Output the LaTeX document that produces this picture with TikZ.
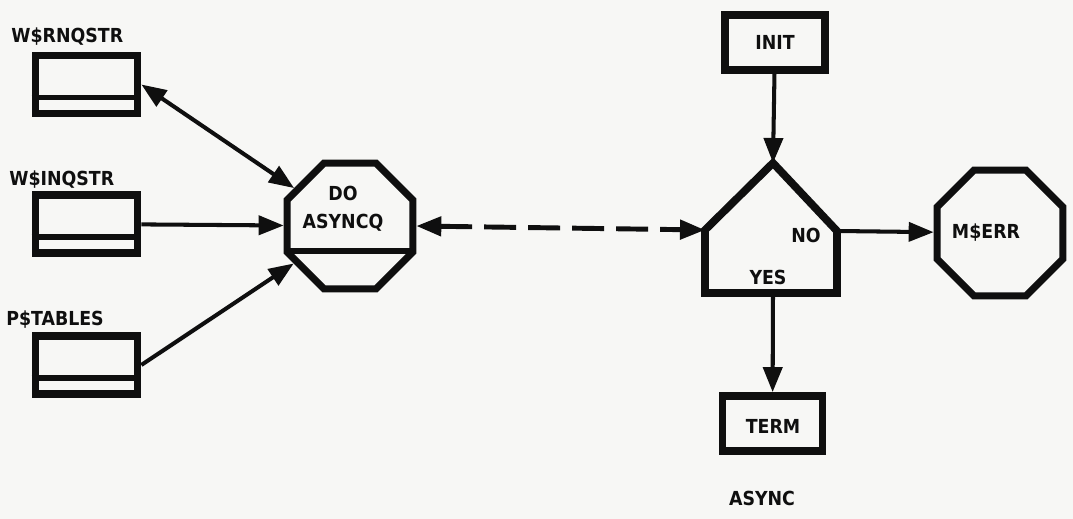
\documentclass[tikz,border=0pt]{standalone}
\usepackage{fontspec}
\setmainfont{DejaVu Sans Condensed}
\usetikzlibrary{arrows.meta,shapes.geometric}

\definecolor{paper}{RGB}{247,247,245}
\definecolor{ink}{RGB}{15,15,15}

\tikzset{
    lbl/.style={font=\fontsize{11}{16}\selectfont\bfseries, text=ink, inner sep=0pt, align=center},
    store/.style={draw=ink, line width=4.4pt, minimum width=2.04cm, minimum height=1.16cm, inner sep=0pt},
    proc/.style={draw=ink, line width=4.4pt, minimum width=2cm, minimum height=1.1cm, inner sep=0pt},
    octa/.style={draw=ink, line width=4pt, regular polygon, regular polygon sides=8, minimum size=2.72cm, inner sep=0pt},
    flow/.style={draw=ink, line width=2.3pt, -{Triangle[length=0.5cm,width=0.38cm]}},
    twoway/.style={draw=ink, line width=2.3pt, {Triangle[length=0.5cm,width=0.38cm]}-{Triangle[length=0.5cm,width=0.38cm]}},
}

\begin{document}
\begin{tikzpicture}[x=0.02cm, y=-0.02cm]
    \fill[paper] (0,0) rectangle (1073,519);
    \useasboundingbox (0,0) rectangle (1073,519);

    % data stores on the left
    \node[store] (rn) at (86.5,84.5) {};
    \node[store] (iq) at (86.5,224) {};
    \node[store] (pt) at (86.5,365) {};
    \foreach \s in {rn,iq,pt}
        \draw[ink, line width=3.2pt] ([yshift=0.4cm]\s.south west) -- ([yshift=0.4cm]\s.south east);

    \node[lbl, anchor=west] (rnlbl) at (11,37) {W\$RNQSTR};
    \node[lbl, anchor=west] (iqlbl) at (9,180) {W\$INQSTR};
    \node[lbl, anchor=west] (ptlbl) at (6,320) {P\$TABLES};

    % the call
    \node[octa] (dq) at (350,226) {};
    \draw[ink, line width=3.2pt] ([shift={(-1.24cm,-0.5cm)}]dq.center) -- ([shift={(1.24cm,-0.5cm)}]dq.center);
    \node[lbl] (dqlbl) at (343,209) {DO\\ASYNCQ};

    % decision
    \coordinate (dtop) at (773,163);
    \coordinate (dw) at (705,230);
    \coordinate (de) at (837,231);
    \coordinate (db) at (773,293);
    \draw[ink, line width=4.4pt, line join=miter] (dtop) -- (dw) -- (705,293) -- (837,293) -- (de) -- cycle;
    \node[lbl] (no) at (806,235) {NO};
    \node[lbl] (yes) at (768,277) {YES};

    \node[proc] (init) at (775,42.5) {};
    \node[lbl] (initlbl) at (init) {INIT};
    \node[proc] (term) at (772.5,423.5) {};
    \node[lbl] (termlbl) at (773,426) {TERM};
    \node[lbl] (async) at (762,498) {ASYNC};

    \node[octa] (err) at (1000,233) {};
    \node[lbl] (errlbl) at (986,233) {M\$ERR};

    % connectors
    \draw[twoway] (rn.east) -- (dq);
    \draw[flow] (iq) -- (dq);
    \draw[flow] (pt.east) -- (dq);
    \draw[twoway, line width=2.8pt, dash pattern=on 0.64cm off 0.24cm] (dq.east) -- (dw);
    \draw[flow] (init) -- (dtop);
    \draw[flow] (de) -- (err);
    \draw[flow] (db) -- (term);
\end{tikzpicture}
\end{document}
